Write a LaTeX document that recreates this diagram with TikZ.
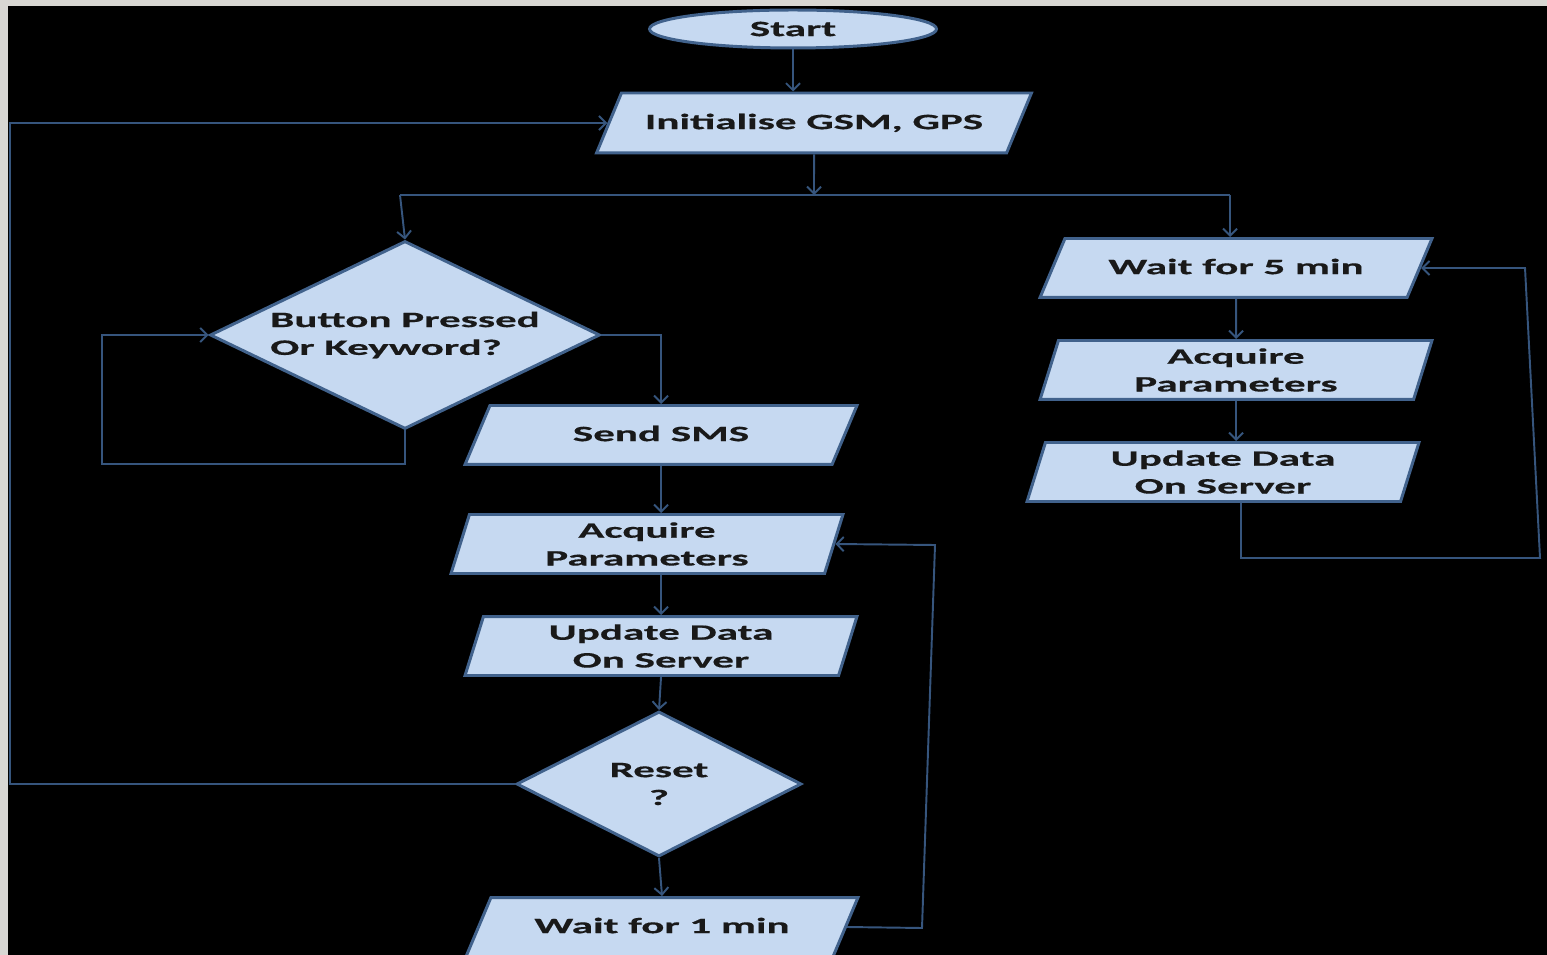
\documentclass[tikz,border=0pt]{standalone}
\usepackage{fontspec}
\newfontfamily\flowfont{Carlito}[FakeStretch=1.96, BoldFeatures={FakeBold=0.5}]
\usetikzlibrary{shapes.geometric,arrows.meta}
\definecolor{boxfill}{HTML}{C6D9F1}
\definecolor{boxline}{HTML}{41628C}
\definecolor{flowline}{HTML}{36557D}
\definecolor{slidegrey}{HTML}{D8D7D3}

\begin{document}
\begin{tikzpicture}[x=0.02cm, y=-0.02cm, >={Straight Barb[length=4pt,width=8pt]},
    every node/.style={font=\flowfont\bfseries\fontsize{12.5}{15.8}\selectfont, text=black!90},
    startstop/.style={ellipse, draw=boxline, fill=boxfill, line width=1.7pt, minimum width=5.74cm, minimum height=0.76cm, inner sep=0pt},
    io/.style={trapezium, trapezium left angle=67, trapezium right angle=113, trapezium stretches body=true, draw=boxline, fill=boxfill, line width=1.7pt, align=center, inner sep=0pt, minimum width=7.84cm, minimum height=1.18cm},
    ioline/.style={io, text height=10pt, text depth=3pt, inner ysep=10.2pt},
    decision/.style={diamond, aspect=2.07, draw=boxline, fill=boxfill, line width=1.7pt, inner sep=0pt},
    line/.style={draw=flowline, line width=1.1pt}]
    \useasboundingbox (0,0) rectangle (1547,955);
    \fill[slidegrey] (0,0) rectangle (1547,955);
    \fill[black] (8,6) rectangle (1547,955);

    % main column
    \node[startstop] (start) at (793,29) {Start};
    \node[ioline, minimum width=8.7cm, minimum height=1.2cm] (init) at (814,123) {Initialise GSM, GPS};
    \coordinate (split) at (814,195);
    \coordinate (jl) at (400,195);
    \coordinate (jr) at (1230,195);

    % left branch
    \node[decision, minimum width=7.8cm, minimum height=3.76cm, align=left] (btn) at (405,335) {Button Pressed\\Or Keyword?};
    \node[ioline] (sms) at (661,435) {Send SMS};
    \node[io] (acqL) at (647,544) {Acquire\\Parameters};
    \node[io] (updL) at (661,646) {Update Data\\On Server};
    \node[decision, minimum width=5.7cm, minimum height=2.9cm, align=center] (reset) at (659,784) {Reset\\?};
    \node[ioline] (wait1) at (662,927) {Wait for 1 min};

    % right branch
    \node[ioline] (wait5) at (1236,268) {Wait for 5 min};
    \node[io] (acqR) at (1236,370) {Acquire\\Parameters};
    \node[io] (updR) at (1223,472) {Update Data\\On Server};

    % loop corners
    \coordinate (bl) at (102,464);
    \coordinate (rl) at (10,450);
    \coordinate (w1r) at (922,928);
    \coordinate (a1r) at (935,545);
    \coordinate (ul) at (1241,558);
    \coordinate (ur) at (1540,558);
    \coordinate (ut) at (1525,268);

    \draw[line, ->] (start.south) -- (start.south |- init.north);
    \draw[line, ->] (init.south) -- (split);
    \draw[line] (jl) -- (jr);
    \draw[line, ->] (jl) -- (btn.north);
    \draw[line, ->] (jr) -- (jr |- wait5.north);

    \draw[line, ->] (btn.south) -- (btn.south |- bl) -- (bl) |- (btn.west);
    \draw[line, ->] (btn.east) -| (sms.north);
    \draw[line, ->] (sms.south) -- (sms.south |- acqL.north);
    \draw[line, ->] (updL.north |- acqL.south) -- (updL.north);
    \draw[line, ->] (updL.south) -- (reset.north);
    \draw[line, ->] (reset.south) -- (wait1.north);
    \draw[line, ->] (wait1.east) -- (w1r) -- (a1r) -- (acqL.east);
    \draw[line, ->] (reset.west) -| (rl) |- (init.west);

    \draw[line, ->] (wait5.south) -- (acqR.north);
    \draw[line, ->] (acqR.south) -- (acqR.south |- updR.north);
    \draw[line, ->] (ul |- updR.south) -- (ul) -- (ur) -- (ut) -- (wait5.east);
\end{tikzpicture}
\end{document}
